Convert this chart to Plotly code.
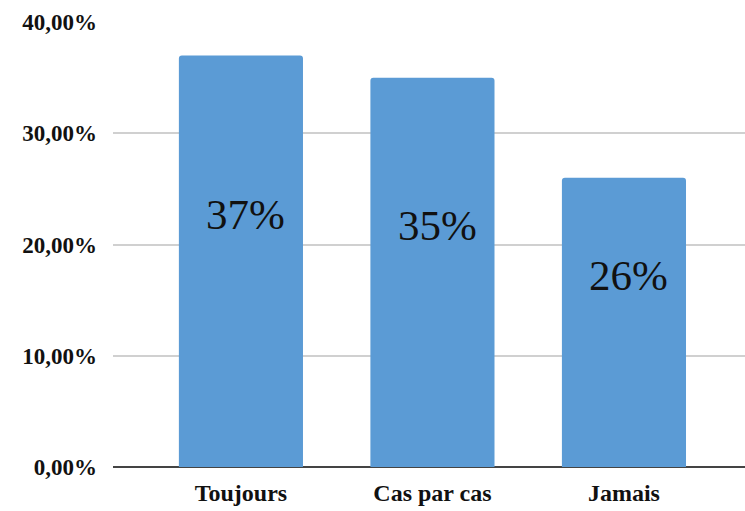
import plotly.graph_objects as go

categories = ["Toujours", "Cas par cas", "Jamais"]
values = [37, 35, 26]
labels = ["37%", "35%", "26%"]
y_ticks = [0, 10, 20, 30, 40]
y_tick_text = ["0,00%", "10,00%", "20,00%", "30,00%", "40,00%"]

BAR_COLOR = "#5b9bd5"
SERIF = "Liberation Serif, Times New Roman, serif"

fig = go.Figure()
fig.add_trace(go.Bar(
    x=categories, y=values,
    marker=dict(color=BAR_COLOR, line=dict(width=0)),
    width=0.648,
    hoverinfo="skip",
))

# value labels sit a little above the middle of each bar
for c, v, t in zip(categories, values, labels):
    fig.add_annotation(
        x=c, y=v / 2 + 4.2, text=t, showarrow=False,
        xshift=5, font=dict(family=SERIF, size=43, color="#111111"),
    )

fig.update_layout(
    width=745, height=511,
    margin=dict(l=113, r=0, t=22, b=44, autoexpand=False),
    paper_bgcolor="white", plot_bgcolor="white",
    showlegend=False,
    barcornerradius=3,
    xaxis=dict(
        range=[-0.668, 2.632],
        automargin=False,
        showgrid=False,
        showline=False,
        ticks="",
        tickfont=dict(family=SERIF, size=24, color="#111111", weight="bold"),
        ticklabelstandoff=9,
    ),
    yaxis=dict(
        range=[0, 40],
        automargin=False,
        tickvals=y_ticks,
        ticktext=y_tick_text,
        showgrid=True,
        gridcolor="#d0d0d0",
        gridwidth=1.5,
        zeroline=True,
        zerolinecolor="#444444",
        zerolinewidth=2,
        showline=False,
        ticks="",
        tickfont=dict(family=SERIF, size=23, color="#111111", weight="bold"),
        ticklabelstandoff=15,
    ),
)

fig.write_html(
    "out.html",
    config={"displayModeBar": False},
    post_script="document.body.style.margin='0';document.body.style.overflow='hidden';",
)
